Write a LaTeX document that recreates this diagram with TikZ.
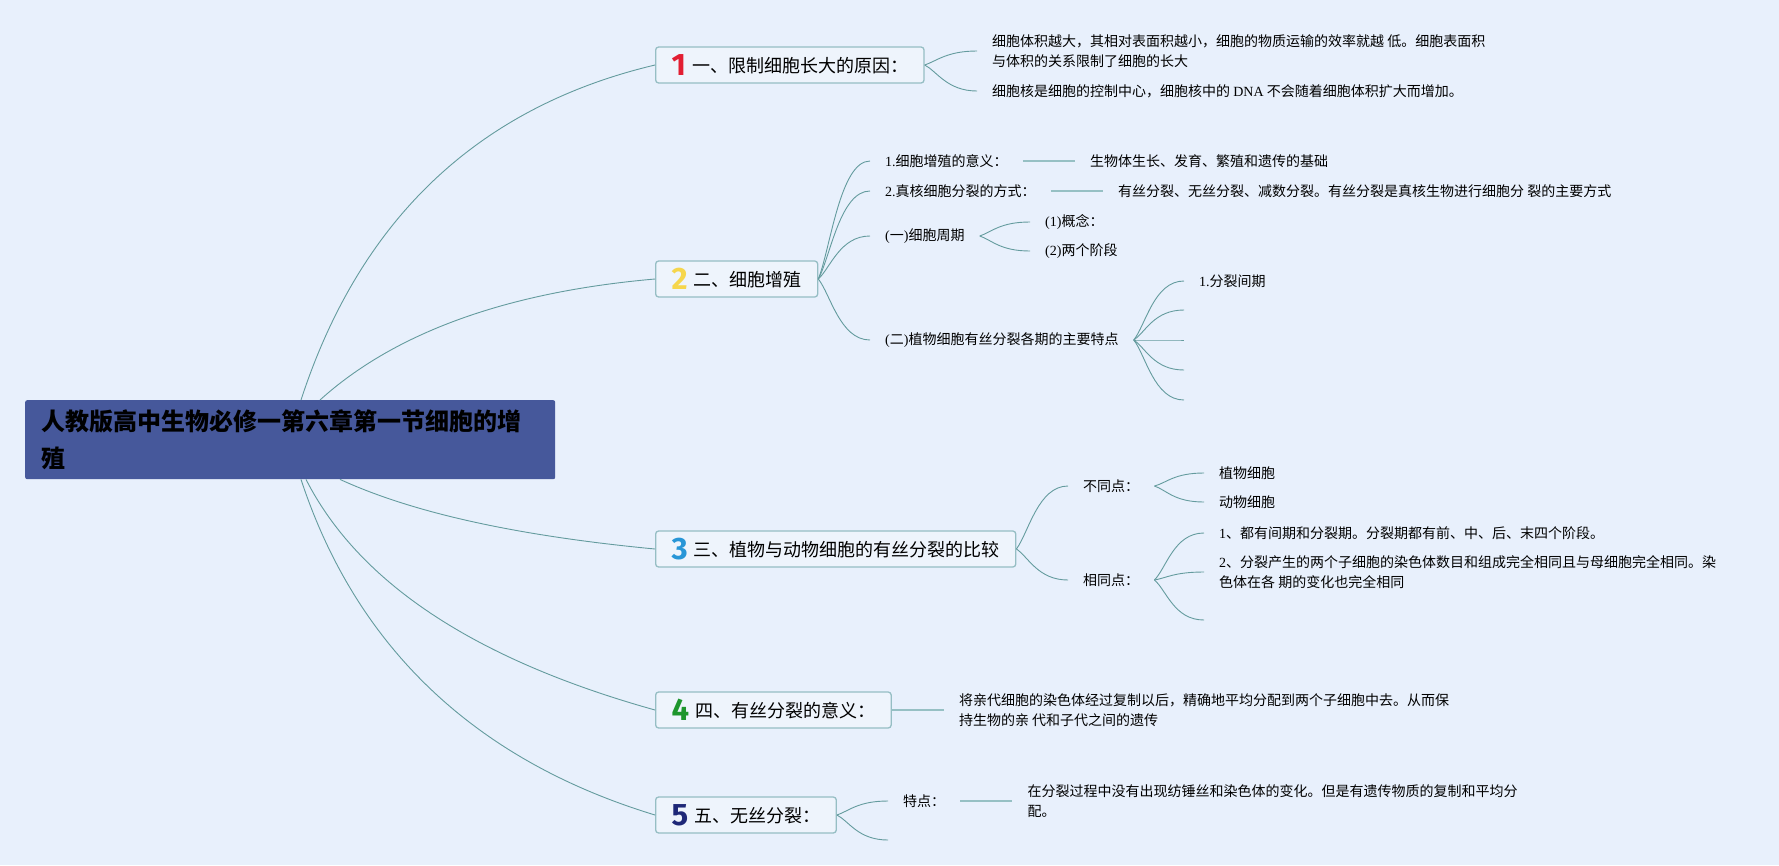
\documentclass[tikz,border=0pt]{standalone}
\usepackage{fontspec}
\setmainfont{Noto Sans CJK SC}
\newfontfamily\latinfont{Liberation Serif}
\newfontfamily\digitfont{Fira Sans}
\usetikzlibrary{positioning}

\definecolor{bgblue}{RGB}{232,240,252}
\definecolor{rootblue}{RGB}{70,88,155}
\definecolor{boxline}{RGB}{150,190,196}
\definecolor{boxfill}{RGB}{238,244,252}
\definecolor{linkteal}{RGB}{100,155,158}
\definecolor{barteal}{RGB}{150,192,196}
\definecolor{numred}{RGB}{226,30,50}
\definecolor{numyellow}{RGB}{246,214,76}
\definecolor{numblue}{RGB}{40,150,215}
\definecolor{numgreen}{RGB}{30,150,45}
\definecolor{numnavy}{RGB}{30,40,120}

\newcommand\topicnum[2]{\textcolor{#1}{\raisebox{-3pt}{\digitfont\bfseries\fontsize{31}{31}\selectfont #2}}\hspace{6pt}}

\begin{document}
\begin{tikzpicture}[x=1pt,y=-1pt,
  root/.style={fill=rootblue,rounded corners=2pt,anchor=north west,text width=498pt,minimum height=79pt,inner xsep=16pt,align=left,font=\fontsize{24}{37}\selectfont\bfseries},
  topic/.style={draw=boxline,line width=1.3pt,fill=boxfill,rounded corners=3pt,anchor=west,minimum height=36pt,inner xsep=16pt,font=\fontsize{18}{22}\selectfont},
  leaf/.style={anchor=west,inner xsep=15pt,inner ysep=2pt,align=left,font=\fontsize{14}{20}\selectfont},
  link/.style={draw=linkteal,line width=0.9pt},
  bar/.style={draw=barteal,line width=1.8pt}]
\useasboundingbox (0,0) rectangle (1779,865);
\fill[bgblue] (0,0) rectangle (1779,865);

\node[root] (root) at (25,400) {人教版高中生物必修一第六章第一节细胞的增\\殖};

\node[topic] (t1) at (655,65) {\topicnum{numred}{1}一、限制细胞长大的原因：};
\node[topic] (t2) at (655,279) {\topicnum{numyellow}{2}二、细胞增殖};
\node[topic] (t3) at (655,549) {\topicnum{numblue}{3}三、植物与动物细胞的有丝分裂的比较};
\node[topic] (t4) at (655,710) {\topicnum{numgreen}{4}四、有丝分裂的意义：};
\node[topic] (t5) at (655,815) {\topicnum{numnavy}{5}五、无丝分裂：};

\draw[link] ([xshift=276]root.north west) .. controls +(59,-181) and +(-177,42) .. (t1.west);
\draw[link] ([xshift=295]root.north west) .. controls +(74,-67) and +(-149,13) .. (t2.west);
\draw[link] ([xshift=315]root.south west) .. controls +(74,34) and +(-136,-13) .. (t3.west);
\draw[link] ([xshift=281]root.south west) .. controls +(53,104) and +(-179,-50) .. (t4.west);
\draw[link] ([xshift=276]root.south west) .. controls +(55,167) and +(-181,-55) .. (t5.west);

\node[leaf] (a1) at (977,51) {细胞体积越大，其相对表面积越小，细胞的物质运输的效率就越 低。细胞表面积\\与体积的关系限制了细胞的长大};
\node[leaf] (a2) at (977,91) {细胞核是细胞的控制中心，细胞核中的 {\latinfont DNA} 不会随着细胞体积扩大而增加。};
\draw[link] (t1.east) .. controls +(12,-4) and +(-30,0) .. (a1.west);
\draw[link] (t1.east) .. controls +(12,6) and +(-30,0) .. (a2.west);

\node[leaf] (b1) at (870,161) {{\latinfont 1.}细胞增殖的意义：};
\node[leaf] (b2) at (870,191) {{\latinfont 2.}真核细胞分裂的方式：};
\node[leaf] (b3) at (870,236) {{\latinfont(}一{\latinfont)}细胞周期};
\node[leaf] (b4) at (870,340) {{\latinfont(}二{\latinfont)}植物细胞有丝分裂各期的主要特点};
\node[leaf,right=52pt of b1] (b1x) {生物体生长、发育、繁殖和遗传的基础};
\node[leaf,right=52pt of b2] (b2x) {有丝分裂、无丝分裂、减数分裂。有丝分裂是真核生物进行细胞分 裂的主要方式};
\draw[link] (t2.east) .. controls +(12,-30) and +(-30,0) .. (b1.west);
\draw[link] (t2.east) .. controls +(12,-22) and +(-30,0) .. (b2.west);
\draw[link] (t2.east) .. controls +(12,-11) and +(-30,0) .. (b3.west);
\draw[link] (t2.east) .. controls +(12,15) and +(-30,0) .. (b4.west);
\draw[bar] (b1.east) -- (b1x.west);
\draw[bar] (b2.east) -- (b2x.west);

\node[leaf] (c1) at (1030,222) {{\latinfont(1)}概念：};
\node[leaf] (c2) at (1030,251) {{\latinfont(2)}两个阶段};
\draw[link] (b3.east) .. controls +(12,-4) and +(-30,0) .. (c1.west);
\draw[link] (b3.east) .. controls +(12,4) and +(-30,0) .. (c2.west);

\node[leaf] (d1) at (1184,281) {{\latinfont 1.}分裂间期};
\coordinate (d2) at (1184,310);
\coordinate (d3) at (1184,340);
\coordinate (d4) at (1184,370);
\coordinate (d5) at (1184,400);
\draw[link] (b4.east) .. controls +(12,-15) and +(-30,0) .. (d1.west);
\draw[link] (b4.east) .. controls +(12,-8) and +(-30,0) .. (d2);
\draw[link] (b4.east) .. controls +(12,0) and +(-30,0) .. (d3);
\draw[link] (b4.east) .. controls +(12,8) and +(-30,0) .. (d4);
\draw[link] (b4.east) .. controls +(12,15) and +(-30,0) .. (d5);

\node[leaf] (e1) at (1068,486) {不同点：};
\node[leaf] (e2) at (1068,580) {相同点：};
\draw[link] (t3.east) .. controls +(12,-16) and +(-30,0) .. (e1.west);
\draw[link] (t3.east) .. controls +(12,8) and +(-30,0) .. (e2.west);

\node[leaf] (f1) at (1204,473) {植物细胞};
\node[leaf] (f2) at (1204,502) {动物细胞};
\draw[link] (e1.east) .. controls +(12,-3) and +(-30,0) .. (f1.west);
\draw[link] (e1.east) .. controls +(12,4) and +(-30,0) .. (f2.west);

\node[leaf] (g1) at (1204,533) {{\latinfont 1}、都有间期和分裂期。分裂期都有前、中、后、末四个阶段。};
\node[leaf] (g2) at (1204,572) {{\latinfont 2}、分裂产生的两个子细胞的染色体数目和组成完全相同且与母细胞完全相同。染\\色体在各 期的变化也完全相同};
\coordinate (g3) at (1204,620);
\draw[link] (e2.east) .. controls +(12,-12) and +(-30,0) .. (g1.west);
\draw[link] (e2.east) .. controls +(12,-2) and +(-30,0) .. (g2.west);
\draw[link] (e2.east) .. controls +(12,10) and +(-30,0) .. (g3);

\node[leaf,right=52pt of t4] (h1) {将亲代细胞的染色体经过复制以后，精确地平均分配到两个子细胞中去。从而保\\持生物的亲 代和子代之间的遗传};
\draw[bar] (t4.east) -- (h1.west);

\node[leaf] (k1) at (888,801) {特点：};
\coordinate (k2) at (888,840);
\node[leaf,right=52pt of k1] (k1x) {在分裂过程中没有出现纺锤丝和染色体的变化。但是有遗传物质的复制和平均分\\配。};
\draw[link] (t5.east) .. controls +(12,-4) and +(-30,0) .. (k1.west);
\draw[link] (t5.east) .. controls +(12,6) and +(-30,0) .. (k2);
\draw[bar] (k1.east) -- (k1x.west);

\end{tikzpicture}
\end{document}
